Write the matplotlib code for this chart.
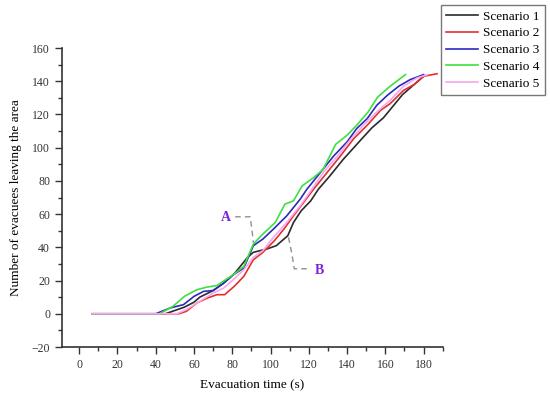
import matplotlib.pyplot as plt
from matplotlib.ticker import MultipleLocator

plt.rcParams['font.family'] = ['Liberation Serif', 'DejaVu Serif']

labels = ['Scenario 1', 'Scenario 2', 'Scenario 3', 'Scenario 4', 'Scenario 5']
colors = ['#2b2b2b', '#e03030', '#2a2ac0', '#3ee03e', '#f7a6ef']

x1 = [7, 45, 50, 55, 60, 63, 70, 75, 81, 88, 91, 98, 103, 109, 112, 116, 121, 125,
      131, 138, 143.5, 149, 153, 159, 164, 169, 175, 180]
y1 = [0, 0, 2, 4, 7, 10, 14, 18, 24, 34, 37, 39, 41, 47, 55, 62, 68, 75,
      83, 93, 100, 107, 112, 118, 125, 132, 138, 143]

x2 = [7, 52, 56, 61.5, 67, 72, 76, 81, 86, 91, 96, 102, 107, 112, 122.5, 129.5,
      136.5, 143.5, 150.5, 157.5, 162.5, 169.5, 175, 180, 187]
y2 = [0, 0, 1.5, 6.5, 9.5, 11.5, 11.5, 16.5, 22.5, 32.5, 37, 44, 51, 59, 75, 85,
      95, 105.5, 113.5, 122.5, 126.5, 134.5, 138, 143, 144.5]

x3 = [7, 40, 47.5, 54.5, 60, 65, 70, 75.5, 80.5, 86, 91, 96, 101.5, 108.5, 115.5,
      119, 126, 133, 140, 145, 150.5, 155.5, 161, 167, 173, 180]
y3 = [0, 0, 3.5, 5.5, 10.5, 13.5, 14, 18.5, 23.5, 27.5, 41, 45, 51, 59, 69,
      75, 85, 95, 103.5, 111.5, 117.5, 125.5, 131.5, 137, 141, 144]

x4 = [7, 42, 49, 55, 61.5, 66.5, 72, 76.5, 80.5, 86, 91, 96, 102.5, 107.5, 112,
      116.5, 122.5, 127.5, 134, 140, 145, 151, 156, 162.5, 170.5]
y4 = [0, 0, 4.5, 10.5, 14.5, 16, 17, 20.5, 23.5, 28.5, 42, 48, 55, 66, 68,
      77, 82, 87, 102, 107.5, 113.5, 121.5, 130.5, 137, 144]

x5 = [7, 51, 56, 63, 70, 75.5, 80.5, 86, 91, 96, 101.5, 108.5, 115.5, 121, 127.5,
      135, 141.5, 148.5, 155.5, 162.5, 169.5, 176.5, 182]
y5 = [0, 0, 2.5, 7.5, 12.5, 15.5, 20.5, 26.5, 34, 38, 46, 55, 65, 74, 85,
      95, 104.5, 113.5, 121.5, 128.5, 137, 142, 144]

# annotation leaders
a_text = (76.4, 58)
a_x = [81.5, 89.4, 91.1]
a_y = [58.4, 58.4, 42.8]
b_text = (125.7, 26.2)
b_x = [109.4, 111.2, 112.4, 120.8]
b_y = [46, 35.8, 27.1, 27.1]

fig = plt.figure(figsize=(5.5, 3.96), dpi=100)
ax = fig.add_axes([0.1127, 0.1237, 0.6923, 0.755])

for xs, ys, c, lab in zip([x1, x2, x3, x4, x5], [y1, y2, y3, y4, y5], colors, labels):
    ax.plot(xs, ys, color=c, lw=1.2, label=lab)

ax.plot(a_x, a_y, color='#909090', lw=1, dashes=(4, 3))
ax.plot(b_x, b_y, color='#909090', lw=1, dashes=(4, 3))
ax.text(*a_text, 'A', color='#7d22d8', fontsize=10, fontweight='bold', ha='center', va='center')
ax.text(*b_text, 'B', color='#7d22d8', fontsize=10, fontweight='bold', ha='center', va='center')

ax.set_xlim(-9, 190)
ax.set_ylim(-20, 160)
ax.xaxis.set_major_locator(MultipleLocator(20))
ax.xaxis.set_minor_locator(MultipleLocator(10))
ax.yaxis.set_major_locator(MultipleLocator(20))
ax.yaxis.set_minor_locator(MultipleLocator(10))
ax.set_xticks(range(0, 181, 20))
ax.tick_params(which='major', direction='out', length=5, width=1, labelsize=8.5, colors='#333333')
ax.tick_params(which='minor', direction='out', length=3, width=1, colors='#333333')
for s in ['top', 'right']:
    ax.spines[s].set_visible(False)
for s in ['left', 'bottom']:
    ax.spines[s].set_color('#333333')
    ax.spines[s].set_linewidth(1.2)

ax.set_xlabel('Evacuation time (s)', fontsize=9.5, labelpad=6)
ax.set_ylabel('Number of evacuees leaving the area', fontsize=9.5, labelpad=7)

fig.legend(loc='upper right', bbox_to_anchor=(545 / 550, 1 - 5 / 396), fontsize=9.5,
           frameon=True, fancybox=False, edgecolor='#777777', framealpha=1,
           borderaxespad=0, handlelength=2.4, labelspacing=0.35, borderpad=0.4,
           handletextpad=0.4)

fig.savefig('out.png', dpi=100)
